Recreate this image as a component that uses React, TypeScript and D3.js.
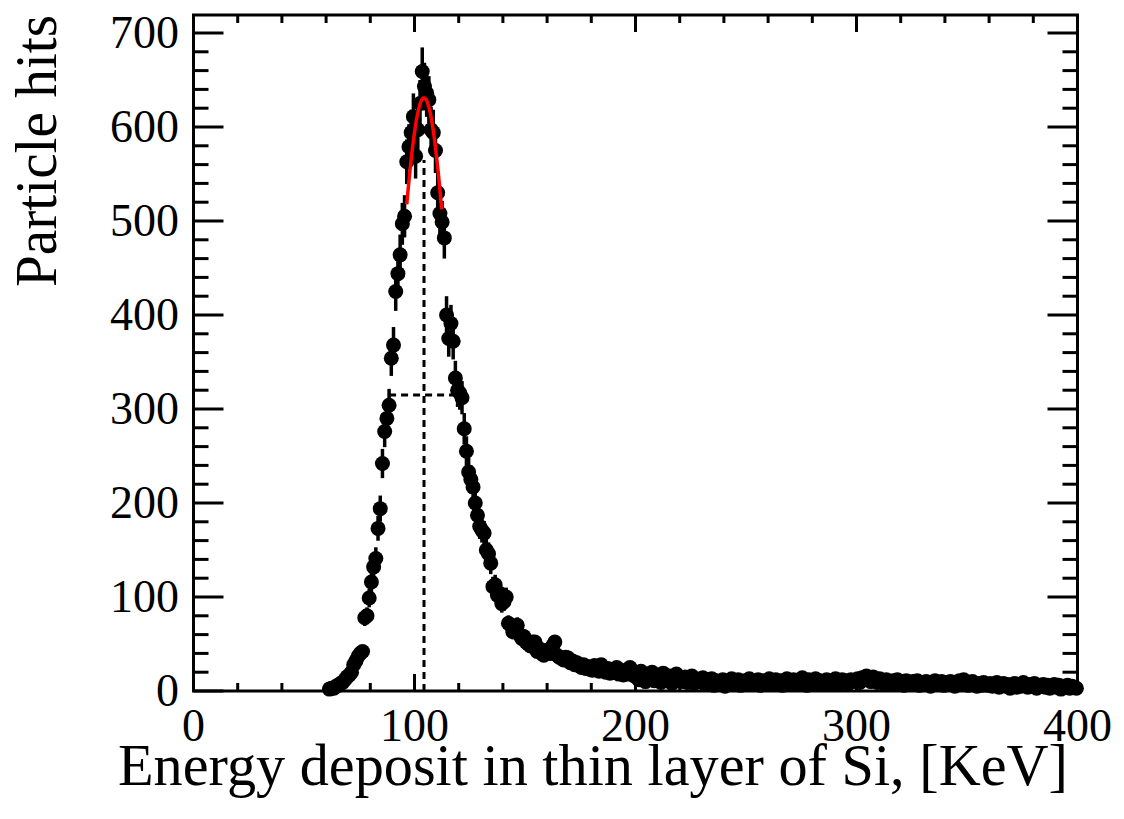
import React from "react";
import * as d3 from "d3";

// Histogram of energy deposit, 1 KeV bins starting at 61 KeV
const firstBin = 61;
const counts: number[] = [
  // 61 - 99
  2, 3, 3, 5, 6, 8, 9, 12, 15, 17, 20, 28, 32, 37, 40, 42, 78, 80, 99, 116,
  132, 141, 173, 194, 242, 276, 290, 304, 354, 368, 425, 444, 464, 497, 505, 563, 579, 594, 611,
  // 100 - 149
  569, 597, 625, 659, 643, 636, 629, 597, 594, 575, 530, 508, 499, 482, 400, 375, 391, 372, 333, 320,
  317, 312, 279, 255, 233, 225, 217, 200, 187, 175, 171, 168, 150, 146, 136, 111, 113, 102, 104, 93,
  95, 100, 72, 70, 63, 68, 70, 60, 56, 58,
  // 150 - 199
  52, 50, 48, 52, 52, 42, 45, 40, 38, 43, 43, 40, 48, 52, 38, 36, 35, 33, 36, 35,
  30, 32, 28, 30, 27, 25, 28, 24, 26, 23, 22, 27, 24, 21, 28, 22, 20, 24, 19, 22,
  20, 25, 18, 21, 17, 22, 18, 25, 20, 16,
  // 200 - 229
  19, 12, 21, 15, 10, 18, 14, 20, 11, 17, 13, 9, 19, 15, 12, 16, 8, 14, 18, 11,
  13, 10, 15, 9, 12, 16, 8, 13, 11, 10,
  // 230 - 259
  14, 7, 12, 9, 13, 6, 11, 10, 8, 12, 5, 11, 9, 13, 7, 10, 12, 6, 9, 11,
  8, 13, 7, 10, 9, 12, 6, 11, 8, 10,
  // 260 - 299
  13, 7, 9, 12, 8, 11, 6, 10, 13, 9, 7, 12, 10, 8, 11, 14, 9, 6, 12, 10,
  8, 13, 9, 11, 7, 10, 12, 8, 11, 9, 13, 7, 10, 12, 9, 11, 8, 12, 10, 11,
  // 300 - 329
  13, 9, 14, 12, 16, 13, 10, 15, 12, 9, 13, 11, 8, 12, 10, 7, 11, 9, 12, 8,
  10, 6, 11, 9, 7, 10, 8, 11, 6, 9,
  // 330 - 359
  7, 10, 8, 5, 9, 11, 7, 8, 10, 6, 9, 7, 10, 8, 5, 9, 11, 8, 12, 9,
  6, 8, 10, 7, 5, 8, 6, 9, 7, 6,
  // 360 - 399
  8, 5, 7, 9, 4, 6, 8, 5, 7, 3, 6, 8, 4, 7, 5, 9, 6, 4, 7, 5,
  8, 3, 6, 5, 7, 4, 6, 3, 5, 7, 4, 6, 2, 5, 4, 6, 3, 5, 4, 3,
];

// Gaussian fit to the peak and its FWHM markers
const fitAmp = 631;
const fitMean = 104.3;
const fitSigma = 12.4;
const fitRange = [96.5, 112.3];
const halfMax = 315;
const fwhmRange = [88.5, 118.3];
const peakLineTop = 565;

const xTicks = [0, 100, 200, 300, 400];
const yTicks = [0, 100, 200, 300, 400, 500, 600, 700];

const W = 1124;
const H = 819;
const L = 193.5, R = 1077.5, T = 15, B = 691;

export default function App() {
  const x = d3.scaleLinear().domain([0, 400]).range([L, R]);
  const y = d3.scaleLinear().domain([0, 700]).range([B, 33]);
  const yTop = y.invert(T);

  const pts = counts.map((c, i) => ({ e: firstBin + i + 0.5, c }));

  const fitPts = d3.range(fitRange[0], fitRange[1] + 0.001, 0.1).map((e) => [
    e,
    fitAmp * Math.exp(-((e - fitMean) ** 2) / (2 * fitSigma * fitSigma)),
  ]);
  const fitLine = d3
    .line<number[]>()
    .x((d) => x(d[0]))
    .y((d) => y(d[1]));

  const xMinor = d3.range(0, 401, 20);
  const yMinor = d3.range(0, yTop, 20);

  const font = "'Liberation Serif', 'Times New Roman', serif";
  const sw = 3;

  return (
    <svg
      width={W}
      height={H}
      style={{ position: "absolute", left: 0, top: 0, background: "#fff" }}
    >
      <rect x={0} y={0} width={W} height={H} fill="#fff" />
      {/* FWHM and peak position markers */}
      <line
        x1={x(fitMean)}
        x2={x(fitMean)}
        y1={y(0)}
        y2={y(peakLineTop)}
        stroke="#000"
        strokeWidth={3}
        strokeDasharray="7,5"
      />
      <line
        x1={x(fwhmRange[0])}
        x2={x(fwhmRange[1])}
        y1={y(halfMax)}
        y2={y(halfMax)}
        stroke="#000"
        strokeWidth={3}
        strokeDasharray="7,5"
      />
      {/* error bars */}
      <g stroke="#000" strokeWidth={3.5}>
        {pts.map((p, i) => {
          const err = Math.sqrt(p.c);
          return (
            <line
              key={i}
              x1={x(p.e)}
              x2={x(p.e)}
              y1={y(Math.max(0, p.c - err))}
              y2={y(Math.min(yTop, p.c + err))}
            />
          );
        })}
      </g>
      {/* markers */}
      <g fill="#000">
        {pts.map((p, i) => (
          <circle key={i} cx={x(p.e)} cy={y(p.c)} r={7.5} />
        ))}
      </g>
      {/* fit */}
      <path d={fitLine(fitPts) || ""} fill="none" stroke="#ff0000" strokeWidth={3.5} />

      {/* frame */}
      <rect x={L} y={T} width={R - L} height={B - T} fill="none" stroke="#000" strokeWidth={sw} />
      <g stroke="#000" strokeWidth={sw}>
        {xMinor.map((v) => {
          const len = v % 100 === 0 ? 17 : 8;
          return (
            <g key={"x" + v}>
              <line x1={x(v)} x2={x(v)} y1={B} y2={B - len} />
              <line x1={x(v)} x2={x(v)} y1={T} y2={T + len} />
            </g>
          );
        })}
        {yMinor.map((v) => {
          const len = v % 100 === 0 ? 30 : 15;
          return (
            <g key={"y" + v}>
              <line x1={L} x2={L + len} y1={y(v)} y2={y(v)} />
              <line x1={R} x2={R - len} y1={y(v)} y2={y(v)} />
            </g>
          );
        })}
      </g>

      {/* tick labels */}
      <g fontFamily={font} fontSize={46} fill="#000">
        {xTicks.map((v) => (
          <text key={"xl" + v} x={x(v)} y={741} textAnchor="middle">
            {v}
          </text>
        ))}
        {yTicks.map((v) => (
          <text key={"yl" + v} x={179} y={y(v) + 15} textAnchor="end">
            {v}
          </text>
        ))}
      </g>

      {/* axis titles */}
      <text
        x={593}
        y={785}
        textAnchor="middle"
        fontFamily={font}
        fontSize={60}
        textLength={950}
        lengthAdjust="spacingAndGlyphs"
        fill="#000"
      >
        Energy deposit in thin layer of Si, [KeV]
      </text>
      <text
        transform={`translate(56,151) rotate(-90)`}
        textAnchor="middle"
        fontFamily={font}
        fontSize={60}
        textLength={272}
        lengthAdjust="spacingAndGlyphs"
        fill="#000"
      >
        Particle hits
      </text>
    </svg>
  );
}
